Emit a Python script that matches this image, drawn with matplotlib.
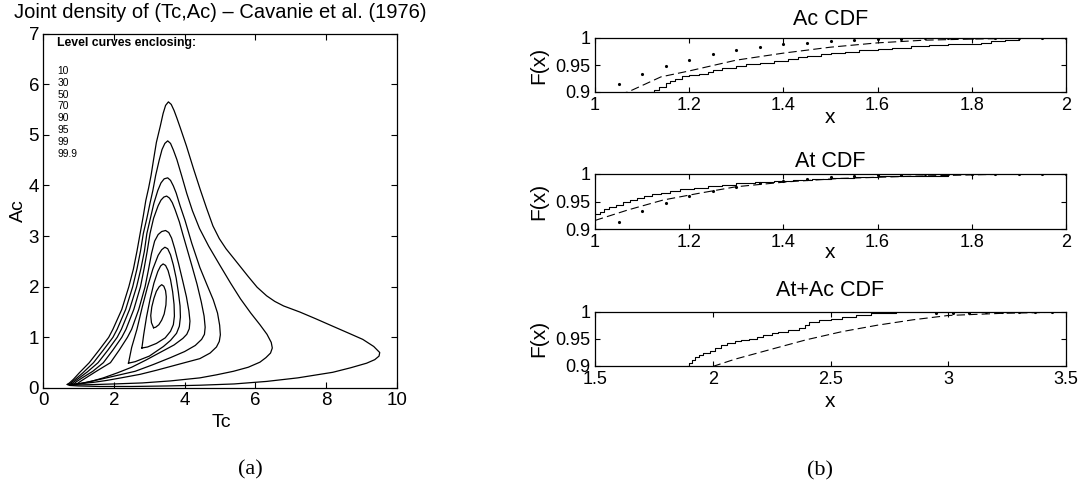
import matplotlib
matplotlib.use('Agg')
import matplotlib.pyplot as plt

plt.rcParams['font.family'] = ['Liberation Sans', 'DejaVu Sans']
plt.rcParams['lines.scale_dashes'] = False

# ---- level curves of the joint density (Tc, Ac) ----
levels = ['10', '30', '50', '70', '90', '95', '99', '99.9']

tc_10 = [3.12, 3.06, 3.04, 3.07, 3.13, 3.20, 3.28, 3.35, 3.41, 3.46, 3.48, 3.47, 3.42, 3.35, 3.27,
         3.18, 3.12]
ac_10 = [1.19, 1.29, 1.43, 1.60, 1.77, 1.91, 2.00, 2.04, 2.01, 1.92, 1.80, 1.64, 1.46, 1.34, 1.25,
         1.20, 1.19]

tc_30 = [2.79, 2.84, 2.92, 3.02, 3.13, 3.24, 3.32, 3.39, 3.46, 3.53, 3.60, 3.66, 3.70, 3.71,
         3.68, 3.60, 3.45, 3.20, 2.95, 2.79]
ac_30 = [0.79, 1.05, 1.40, 1.75, 2.07, 2.30, 2.41, 2.45, 2.42, 2.32, 2.14, 1.90, 1.65, 1.42,
         1.25, 1.12, 0.99, 0.88, 0.81, 0.79]

tc_50 = [2.41, 2.50, 2.65, 2.80, 2.95, 3.10, 3.25, 3.35, 3.44, 3.52, 3.60, 3.68, 3.76, 3.82,
         3.87, 3.88, 3.85, 3.77, 3.60, 3.40, 3.00, 2.60, 2.41]
ac_50 = [0.49, 0.80, 1.16, 1.60, 2.00, 2.35, 2.62, 2.73, 2.78, 2.75, 2.63, 2.43, 2.17, 1.90,
         1.62, 1.40, 1.22, 1.08, 0.94, 0.82, 0.63, 0.52, 0.49]

tc_70 = [0.95, 1.05, 1.25, 1.50, 1.90, 2.15, 2.38, 2.50, 2.70, 2.88, 2.98, 3.06, 3.15, 3.25,
         3.35, 3.46, 3.55, 3.63, 3.72, 3.83, 3.95, 4.05, 4.12, 4.15, 4.13, 4.06, 3.95, 3.70,
         3.30, 2.90, 2.50, 2.10, 1.70, 1.35, 1.10, 0.95]
ac_70 = [0.08, 0.13, 0.22, 0.33, 0.50, 0.75, 1.00, 1.16, 1.55, 2.00, 2.35, 2.65, 2.90, 3.03,
         3.09, 3.11, 3.07, 2.96, 2.75, 2.45, 2.10, 1.80, 1.52, 1.32, 1.17, 1.06, 0.98, 0.85,
         0.70, 0.55, 0.41, 0.30, 0.20, 0.13, 0.09, 0.08]

tc_90 = [0.85, 0.93, 1.10, 1.40, 1.70, 1.97, 2.22, 2.34, 2.56, 2.75, 2.85, 2.94, 3.02, 3.12,
         3.25, 3.33, 3.41, 3.49, 3.57, 3.65, 3.73, 3.85, 3.95, 4.07, 4.21, 4.35, 4.47, 4.55,
         4.58, 4.56, 4.48, 4.30, 4.00, 3.60, 3.10, 2.60, 2.10, 1.60, 1.20, 0.95, 0.85]
ac_90 = [0.07, 0.12, 0.20, 0.33, 0.50, 0.75, 1.00, 1.16, 1.55, 2.00, 2.35, 2.70, 3.05, 3.35,
         3.60, 3.71, 3.77, 3.79, 3.75, 3.66, 3.52, 3.28, 3.03, 2.74, 2.40, 2.05, 1.70, 1.42,
         1.20, 1.06, 0.96, 0.84, 0.72, 0.60, 0.46, 0.33, 0.25, 0.17, 0.11, 0.08, 0.07]

tc_95 = [0.78, 0.85, 1.00, 1.25, 1.55, 1.83, 2.09, 2.21, 2.44, 2.64, 2.76, 2.86, 2.93, 3.03,
         3.13, 3.24, 3.33, 3.42, 3.52, 3.60, 3.68, 3.76, 3.87, 4.01, 4.20, 4.43, 4.63, 4.81,
         4.93, 4.99, 5.01, 4.98, 4.90, 4.72, 4.43, 4.00, 3.68, 3.20, 2.74, 2.20, 1.80, 1.40,
         1.10, 0.90, 0.78]
ac_95 = [0.07, 0.11, 0.19, 0.32, 0.50, 0.75, 1.00, 1.16, 1.55, 2.00, 2.35, 2.70, 3.05, 3.35,
         3.65, 3.90, 4.05, 4.13, 4.15, 4.10, 3.99, 3.85, 3.60, 3.31, 2.86, 2.38, 2.04, 1.74,
         1.48, 1.24, 1.05, 0.92, 0.81, 0.69, 0.58, 0.50, 0.44, 0.35, 0.27, 0.20, 0.15, 0.11,
         0.09, 0.075, 0.07]

tc_99 = [0.72, 0.78, 0.92, 1.12, 1.42, 1.70, 1.97, 2.09, 2.33, 2.53, 2.65, 2.75, 2.83, 2.93,
         3.02, 3.10, 3.18, 3.28, 3.36, 3.44, 3.52, 3.60, 3.68, 3.78, 3.92, 4.06, 4.22, 4.42,
         4.68, 5.00, 5.30, 5.58, 5.87, 6.13, 6.33, 6.45, 6.48, 6.43, 6.30, 6.13, 5.80, 5.38,
         4.90, 4.43, 3.60, 2.80, 2.00, 1.30, 0.90, 0.76, 0.72]
ac_99 = [0.07, 0.10, 0.18, 0.30, 0.50, 0.75, 1.00, 1.16, 1.55, 2.00, 2.35, 2.70, 3.05, 3.35,
         3.65, 3.90, 4.20, 4.50, 4.71, 4.83, 4.88, 4.83, 4.70, 4.51, 4.18, 3.84, 3.50, 3.15,
         2.80, 2.42, 2.07, 1.76, 1.48, 1.25, 1.06, 0.90, 0.79, 0.69, 0.60, 0.51, 0.41, 0.33,
         0.26, 0.20, 0.14, 0.10, 0.08, 0.065, 0.06, 0.06, 0.07]

tc_999 = [0.68, 0.74, 0.85, 1.02, 1.30, 1.58, 1.85, 1.97, 2.22, 2.42, 2.55, 2.65, 2.74, 2.83,
          2.90, 2.98, 3.05, 3.12, 3.20, 3.31, 3.39, 3.46, 3.54, 3.62, 3.70, 3.78, 3.87, 4.05,
          4.25, 4.44, 4.62, 4.80, 4.98, 5.17, 5.40, 5.80, 6.05, 6.32, 6.55, 6.80, 7.26, 7.70,
          8.19, 8.65, 9.04, 9.35, 9.52, 9.50, 9.38, 9.15, 8.70, 8.19, 7.20, 6.32, 5.40, 4.43,
          3.50, 2.50, 1.60, 1.00, 0.75, 0.68]
ac_999 = [0.07, 0.10, 0.17, 0.30, 0.50, 0.75, 1.00, 1.16, 1.55, 2.00, 2.35, 2.70, 3.05, 3.40,
          3.70, 3.95, 4.20, 4.51, 4.85, 5.17, 5.42, 5.58, 5.65, 5.60, 5.48, 5.33, 5.15, 4.78,
          4.33, 3.92, 3.55, 3.20, 2.95, 2.75, 2.55, 2.20, 1.99, 1.82, 1.71, 1.62, 1.50, 1.37,
          1.22, 1.08, 0.96, 0.82, 0.70, 0.63, 0.56, 0.49, 0.40, 0.31, 0.20, 0.13, 0.08, 0.055,
          0.04, 0.03, 0.03, 0.04, 0.05, 0.07]

curves_tc = [tc_10, tc_30, tc_50, tc_70, tc_90, tc_95, tc_99, tc_999]
curves_ac = [ac_10, ac_30, ac_50, ac_70, ac_90, ac_95, ac_99, ac_999]

# ---- CDF panels ----
ac_emp_x = [1.00, 1.118, 1.125, 1.135, 1.15, 1.16, 1.17, 1.185, 1.20, 1.22, 1.24, 1.25, 1.27,
            1.30, 1.32, 1.35, 1.38, 1.41, 1.43, 1.45, 1.48, 1.50, 1.53, 1.56, 1.60, 1.63, 1.67,
            1.71, 1.75, 1.79, 1.82, 1.84, 1.87, 1.90]
ac_emp_f = [0.88, 0.900, 0.904, 0.910, 0.916, 0.921, 0.925, 0.929, 0.932, 0.934, 0.937, 0.941,
            0.944, 0.948, 0.951, 0.954, 0.958, 0.962, 0.965, 0.967, 0.970, 0.973, 0.975, 0.977,
            0.980, 0.982, 0.985, 0.987, 0.988, 0.989, 0.990, 0.994, 0.997, 0.999]
ac_fit_x = [1.00, 1.07, 1.14, 1.20, 1.30, 1.40, 1.50, 1.60, 1.70, 1.80, 1.90, 2.00]
ac_fit_f = [0.886, 0.900, 0.928, 0.939, 0.959, 0.972, 0.983, 0.991, 0.996, 0.998, 0.9995, 1.0]

dot_x = [1.05, 1.10, 1.15, 1.20, 1.25, 1.30, 1.35, 1.40, 1.45, 1.50, 1.55, 1.60, 1.65, 1.70,
         1.75, 1.80, 1.85, 1.90, 1.95, 2.00]
dot_f = [0.914, 0.933, 0.948, 0.960, 0.970, 0.977, 0.983, 0.988, 0.991, 0.994, 0.996, 0.998,
         0.999, 0.9993, 0.9996, 0.9997, 0.9998, 0.9999, 0.9999, 1.0]

at_emp_x = [1.00, 1.01, 1.02, 1.03, 1.045, 1.06, 1.075, 1.09, 1.105, 1.12, 1.14, 1.16, 1.18,
            1.21, 1.24, 1.27, 1.30, 1.34, 1.38, 1.42, 1.46, 1.50, 1.55, 1.60, 1.65, 1.75]
at_emp_f = [0.928, 0.932, 0.936, 0.940, 0.944, 0.949, 0.953, 0.957, 0.960, 0.963, 0.966, 0.969,
            0.972, 0.975, 0.978, 0.981, 0.984, 0.986, 0.988, 0.990, 0.991, 0.993, 0.995, 0.996,
            0.997, 0.9975]
at_fit_x = [1.00, 1.07, 1.145, 1.22, 1.30, 1.41, 1.52, 1.675, 1.83, 2.00]
at_fit_f = [0.916, 0.935, 0.953, 0.965, 0.977, 0.986, 0.992, 0.996, 0.999, 1.0]

sum_emp_x = [1.50, 1.89, 1.90, 1.913, 1.925, 1.943, 1.96, 1.988, 2.01, 2.034, 2.06, 2.094, 2.12,
             2.155, 2.19, 2.215, 2.25, 2.276, 2.32, 2.366, 2.39, 2.41, 2.45, 2.50, 2.55, 2.61,
             2.67, 2.78]
sum_emp_f = [0.85, 0.900, 0.905, 0.911, 0.916, 0.920, 0.923, 0.927, 0.932, 0.939, 0.942, 0.945,
             0.947, 0.950, 0.954, 0.957, 0.960, 0.963, 0.966, 0.969, 0.975, 0.981, 0.984, 0.987,
             0.990, 0.993, 0.997, 0.999]
sum_fit_x = [1.95, 2.01, 2.094, 2.245, 2.397, 2.548, 2.699, 2.85, 3.00, 3.228, 3.455, 3.50]
sum_fit_f = [0.890, 0.900, 0.912, 0.930, 0.948, 0.963, 0.975, 0.985, 0.993, 0.997, 0.999, 0.999]
sum_dot_x = [2.95, 3.02, 3.09, 3.16, 3.23, 3.30, 3.37, 3.44]
sum_dot_f = [0.9975, 0.998, 0.9985, 0.999, 0.999, 0.9993, 0.9995, 0.9997]

W, H = 1079, 488
fig = plt.figure(figsize=(W / 100, H / 100), dpi=100)


def rect(l, t, r, b):
    return [l / W, 1 - b / H, (r - l) / W, (b - t) / H]


# left panel
ax = fig.add_axes(rect(43.3, 33.5, 396.7, 388))
for tc, ac in zip(curves_tc, curves_ac):
    ax.plot(tc, ac, 'k-', lw=0.9)
ax.set_xlim(0, 10)
ax.set_ylim(0, 7)
ax.set_xticks([0, 2, 4, 6, 8, 10])
ax.set_yticks(range(8))
ax.tick_params(direction='in', top=True, right=True, length=4, width=0.8,
               labelsize=13.5)
ax.tick_params(axis='x', pad=3)
ax.tick_params(axis='y', pad=3)
for s in ax.spines.values():
    s.set_linewidth(0.9)
fig.text(220 / W, 1 - 18 / H, 'Joint density of (Tc,Ac) \u2013 Cavanie et al. (1976)',
         ha='center', va='baseline', fontsize=14.5)
fig.text(221 / W, 1 - 427 / H, 'Tc', ha='center', va='baseline', fontsize=14)
fig.text(18 / W, 1 - 211 / H, 'Ac', ha='center', va='center', rotation=90, fontsize=14)

ax.text(0.04, (388 - 43.3) / 354.5, 'Level curves enclosing:', transform=ax.transAxes,
        fontsize=8.8, fontweight='bold', va='center', ha='left')
for i, lv in enumerate(levels):
    ax.text(0.04, (388 - (71 + 11.8 * i)) / 354.5, lv, transform=ax.transAxes,
            fontsize=7.4, va='center', ha='left')

# right panels
panels = [
    (rect(595, 38, 1066, 92), 'Ac CDF', 25, 123,
     ac_emp_x, ac_emp_f, ac_fit_x, ac_fit_f, dot_x, dot_f,
     (1, 2), [1, 1.2, 1.4, 1.6, 1.8, 2], ['1', '1.2', '1.4', '1.6', '1.8', '2']),
    (rect(595, 174, 1066, 229.3), 'At CDF', 166.7, 258,
     at_emp_x, at_emp_f, at_fit_x, at_fit_f, dot_x, dot_f,
     (1, 2), [1, 1.2, 1.4, 1.6, 1.8, 2], ['1', '1.2', '1.4', '1.6', '1.8', '2']),
    (rect(595, 311.7, 1066, 365.7), 'At+Ac CDF', 296, 406.7,
     sum_emp_x, sum_emp_f, sum_fit_x, sum_fit_f, sum_dot_x, sum_dot_f,
     (1.5, 3.5), [1.5, 2, 2.5, 3, 3.5], ['1.5', '2', '2.5', '3', '3.5']),
]

for r, title, ty, xy, ex, ef, fx, ff, dx, df, xl, xt, xtl in panels:
    a = fig.add_axes(r)
    a.plot(ex, ef, 'k-', lw=0.8, drawstyle='steps-post')
    a.plot(fx, ff, 'k--', lw=0.8, dashes=(6, 3))
    a.plot(dx, df, 'k.', ms=2.5)
    a.set_xlim(*xl)
    a.set_ylim(0.9, 1)
    a.set_xticks(xt)
    a.set_xticklabels(xtl)
    a.set_yticks([0.9, 0.95, 1])
    a.set_yticklabels(['0.9', '0.95', '1'])
    a.tick_params(direction='in', top=True, right=True, length=3.5, width=0.8,
                  labelsize=13, pad=3.5)
    for s in a.spines.values():
        s.set_linewidth(0.9)
    cx = (r[0] + r[2] / 2)
    cy = r[1] + r[3] / 2
    fig.text(cx, 1 - ty / H, title, ha='center', va='baseline', fontsize=15.5)
    fig.text(cx, 1 - xy / H, 'x', ha='center', va='baseline', fontsize=15)
    fig.text(539 / W, cy, 'F(x)', ha='center', va='center', rotation=90, fontsize=15)

fig.text(250 / W, 1 - 470 / H, '(a)', ha='center', va='center', fontsize=16,
         family='Liberation Serif')
fig.text(820 / W, 1 - 471 / H, '(b)', ha='center', va='center', fontsize=16,
         family='Liberation Serif')

plt.savefig('out.png', dpi=100)
